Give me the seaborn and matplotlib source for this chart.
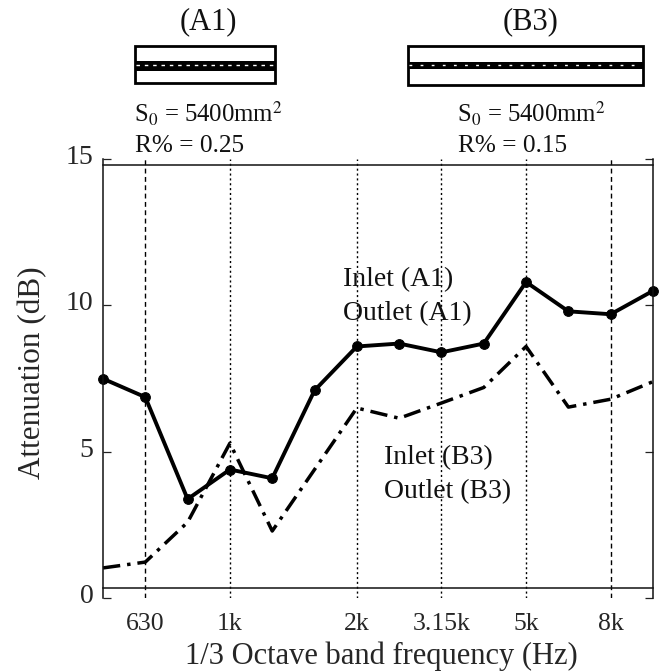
import numpy as np
import matplotlib
matplotlib.use("Agg")
import matplotlib.pyplot as plt
from matplotlib.patches import Rectangle
from matplotlib.transforms import ScaledTranslation
import seaborn as sns

bands = ["", "630", "800", "1k", "1.25k", "1.6k", "2k", "2.5k", "3.15k", "4k", "5k", "6.3k", "8k", "10k"]
shown_bands = ["630", "1k", "2k", "3.15k", "5k", "8k"]
dashed_bands = ["630", "8k"]
atten_a1 = [7.5, 6.87, 3.39, 4.4, 4.1, 7.1, 8.6, 8.7, 8.4, 8.7, 10.8, 9.8, 9.7, 10.5]
atten_b3 = [1.04, 1.24, 2.6, 5.3, 2.3, 4.4, 6.5, 6.15, 6.67, 7.2, 8.6, 6.53, 6.8, 7.4]

W, H = 665, 672

sns.set_style("ticks")
plt.rcParams['font.family'] = ['Liberation Serif', 'DejaVu Serif']
plt.rcParams['mathtext.fontset'] = 'stix'

fig = plt.figure(figsize=(W / 100, H / 100), dpi=100)
ax = fig.add_axes([103 / W, 1 - 598.4 / H, 550 / W, 439.4 / H])

x = np.arange(len(bands))
sns.lineplot(x=x, y=atten_b3, ax=ax, color="black", linewidth=2.5,
             linestyle=(0, (5.0, 2.0, 1.0, 2.0)), clip_on=False)
sns.lineplot(x=x, y=atten_a1, ax=ax, color="black", linewidth=2.8,
             marker="o", markersize=7, markeredgecolor="black", clip_on=False)

ax.set_xlim(0, len(bands) - 1)
ax.set_ylim(0, 15)
ax.set_yticks([0, 5, 10, 15])
ax.set_xticks([bands.index(b) for b in shown_bands])
ax.set_xticklabels(shown_bands)
ax.tick_params(axis="y", direction="in", length=6, width=0.9, left=True, right=True,
               labelsize=20, pad=7, color="#222222")
ax.tick_params(axis="x", length=0, labelsize=18.5, pad=18.5)

# y labels sit a little above their ticks
up = ScaledTranslation(0, 3.5 / 72, fig.dpi_scale_trans)
for lab in ax.get_yticklabels():
    lab.set_transform(lab.get_transform() + up)

# horizontal frame lines sit inside the y range
ax.spines["bottom"].set_position(("data", 0.37))
ax.spines["top"].set_position(("data", 14.8))
for s in ax.spines.values():
    s.set_linewidth(1.1)
    s.set_color("#111111")

ax.set_axisbelow(True)
ax.xaxis.grid(True, color="black", linewidth=1.0)
for b, line in zip(shown_bands, ax.get_xgridlines()):
    line.set_linestyle((0, (3.5, 2.5)) if b in dashed_bands else (0, (1.5, 2.0)))

ax.set_xlabel("1/3 Octave band frequency (Hz)", fontsize=22, labelpad=1)
ax.set_ylabel("Attenuation (dB)", fontsize=22.5)
ax.yaxis.set_label_coords(-56 / 550, 0.513)
ax.xaxis.set_label_coords(0.507, -58 / 439.4, transform=ax.transAxes)
ax.xaxis.label.set_va("center")

# overlay in pixel coordinates for the duct sketches and the notes
ov = fig.add_axes([0, 0, 1, 1], facecolor="none")
ov.set_xlim(0, W)
ov.set_ylim(H, 0)
ov.axis("off")


def duct(x0, x1, y0, y1, s0, s1, dash):
    ov.add_patch(Rectangle((x0, y0), x1 - x0, y1 - y0, fill=False, edgecolor="black", linewidth=2))
    ov.add_patch(Rectangle((x0, s0), x1 - x0, s1 - s0, facecolor="black", edgecolor="none"))
    ov.plot([x0 + 1, x1 - 1], [(s0 + s1) / 2 - 1, (s0 + s1) / 2 - 1], color="white",
            linewidth=1.0, linestyle=(0, dash))


duct(135, 275, 46, 83, 61, 71, (2.5, 3.5))
duct(408, 643, 46, 85, 62, 69, (2.0, 6.0))

notes = [(208, 29, "(A1)", "center", 22), (531, 29, "(B3)", "center", 22),
         (134, 123, r"S$_0$ = 5400mm$^2$", "left", 17.8), (135, 152, "R% = 0.25", "left", 18.2),
         (457, 123, r"S$_0$ = 5400mm$^2$", "left", 17.8), (458, 152, "R% = 0.15", "left", 18.2),
         (343, 286, "Inlet (A1)", "left", 20), (343, 320, "Outlet (A1)", "left", 20),
         (384, 464, "Inlet (B3)", "left", 20), (384, 498, "Outlet (B3)", "left", 20)]
for nx, ny, txt, ha, fs in notes:
    ov.text(nx, ny, txt, ha=ha, va="baseline", fontsize=fs, color="#111111")

fig.savefig("out.png", dpi=100)
